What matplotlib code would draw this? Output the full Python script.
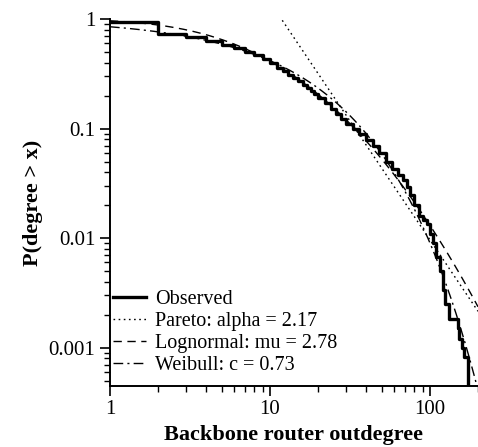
import numpy as np
import matplotlib
matplotlib.use('Agg')
import matplotlib.pyplot as plt
from math import erfc, sqrt, log

# observed CCDF, step positions and P(degree > x)
deg = [1, 2, 3, 4, 5, 6, 7, 8, 9, 10, 11, 12, 13, 14, 15, 16, 17, 18, 19, 20, 22, 24, 26, 28, 30,
       33, 36, 40, 44, 48, 53, 58, 63, 68, 72, 75, 80, 86, 91, 96, 100, 104, 110, 115, 120, 125,
       131, 149, 153, 158, 163, 173]
pobs = [0.945, 0.73, 0.68, 0.63, 0.585, 0.545, 0.505, 0.47, 0.43, 0.395, 0.36, 0.335, 0.31, 0.29,
        0.27, 0.25, 0.235, 0.22, 0.205, 0.19, 0.17, 0.15, 0.135, 0.122, 0.11, 0.10, 0.09, 0.079,
        0.07, 0.06, 0.05, 0.043, 0.038, 0.034, 0.029, 0.025, 0.02, 0.016, 0.0145, 0.0135, 0.011,
        0.009, 0.0068, 0.005, 0.0034, 0.0025, 0.00184, 0.0015, 0.0012, 0.001, 0.00083, 0.00083]

# fitted curves
pareto_alpha = 2.17; pareto_xm = 11.8
logn_m = 2.05; logn_s = 1.15
weib_c = 0.73; weib_b = 12.0

labels = ['Observed', 'Pareto: alpha = 2.17', 'Lognormal: mu = 2.78', 'Weibull: c = 0.73']

plt.rcParams['font.family'] = ['Liberation Serif', 'DejaVu Serif']

x = np.logspace(0, np.log10(200), 400)
p_par = (x/pareto_xm)**(-pareto_alpha)
p_log = np.array([0.5*erfc((log(v)-logn_m)/(logn_s*sqrt(2))) for v in x])
p_wei = np.exp(-(x/weib_b)**weib_c)

fig = plt.figure(figsize=(4.78, 4.47), dpi=100)
ax = fig.add_axes([0.230, 0.137, 0.770, 0.8205])

ax.step(deg + [deg[-1]], pobs + [1e-5], where='post', color='k', lw=2.4, label=labels[0])
ax.plot(x, p_par, color='k', lw=1.0, ls=(0, (1.2, 2.5)), label=labels[1])
ax.plot(x, p_log, color='k', lw=1.0, ls=(0, (6, 4)), label=labels[2])
ax.plot(x, p_wei, color='k', lw=1.0, ls=(0, (7, 3, 1.5, 3)), label=labels[3])

ax.set_xscale('log'); ax.set_yscale('log')
ax.set_xlim(1, 200)
ax.set_ylim(4.5e-4, 1)
ax.set_xticks([1, 10, 100]); ax.set_xticklabels(['1', '10', '100'])
ax.set_yticks([0.001, 0.01, 0.1, 1]); ax.set_yticklabels(['0.001', '0.01', '0.1', '1'])
ax.tick_params(which='major', direction='out', length=7, width=1.2, labelsize=15)
ax.tick_params(which='minor', direction='out', length=4, width=1.0)
for s in ['top', 'right']:
  ax.spines[s].set_visible(False)
for s in ['left', 'bottom']:
  ax.spines[s].set_linewidth(1.4)

ax.set_xlabel('Backbone router outdegree', fontsize=16, fontweight='bold', labelpad=4)
ax.set_ylabel('P(degree > x)', fontsize=16, fontweight='bold', labelpad=4)

ax.legend(loc='lower left', bbox_to_anchor=(0.0, 0.02), frameon=False, fontsize=14.5,
          handlelength=1.65, handletextpad=0.45, labelspacing=0.15, borderaxespad=0.05, borderpad=0.1)

fig.savefig('out.png', dpi=100)
